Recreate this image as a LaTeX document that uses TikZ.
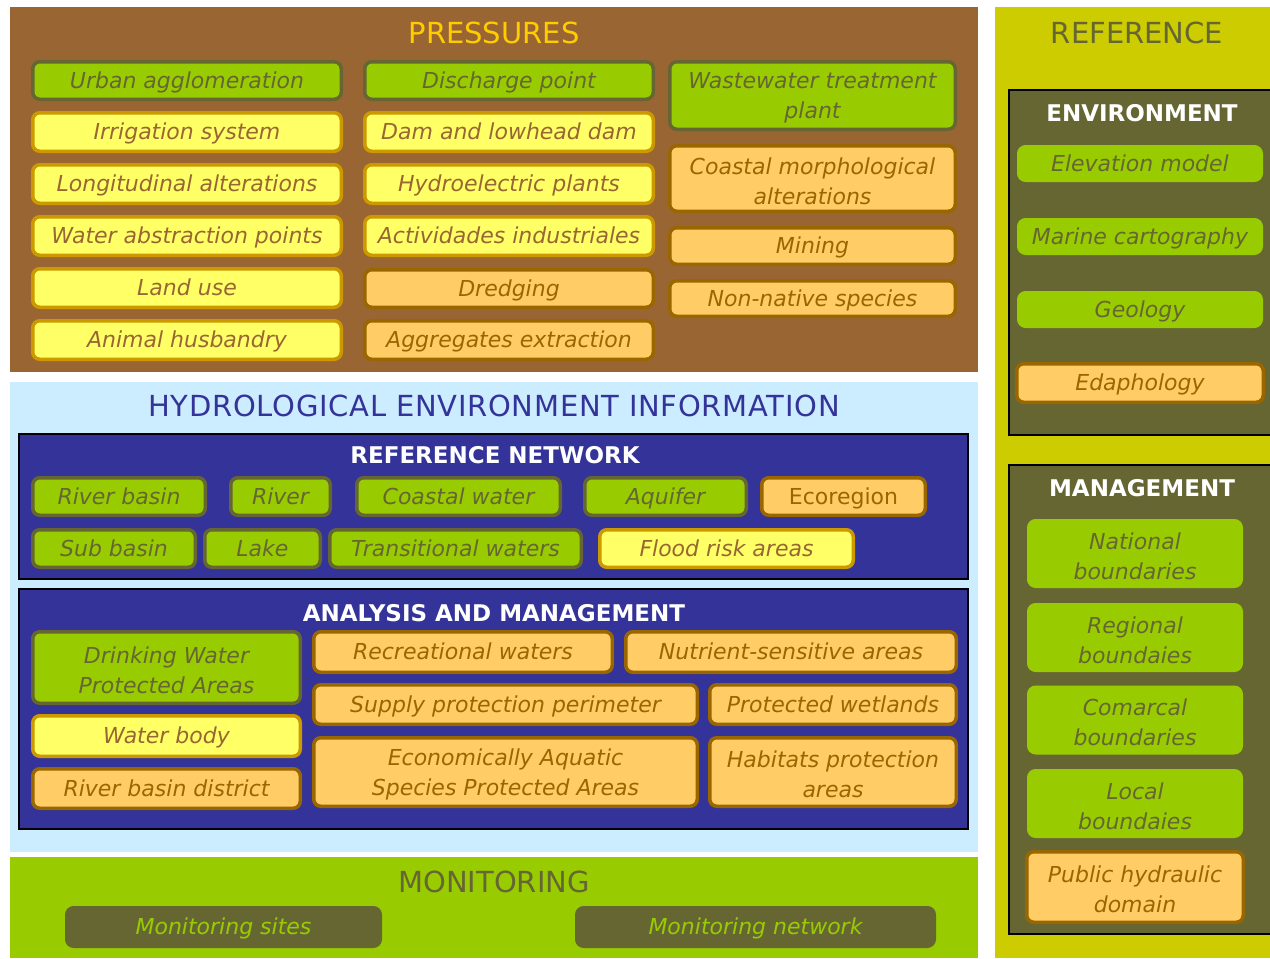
\documentclass[tikz,border=0pt]{standalone}
\usepackage{fontspec}
\setmainfont{DejaVu Sans}
\newfontfamily\widefont[LetterSpace=2.5]{DejaVu Sans}
\definecolor{brnpanel}{HTML}{996633}
\definecolor{ttlyel}{HTML}{FFCC00}
\definecolor{ltblue}{HTML}{CCECFF}
\definecolor{dkblue}{HTML}{333399}
\definecolor{grn}{HTML}{99CC00}
\definecolor{olv}{HTML}{666633}
\definecolor{strip}{HTML}{CCCC00}
\definecolor{yel}{HTML}{FFFF66}
\definecolor{yelb}{HTML}{CC9900}
\definecolor{org}{HTML}{FFCC66}
\definecolor{orgb}{HTML}{996600}
\definecolor{brn}{HTML}{996633}
\newcommand{\tl}{\rule{0pt}{21.5pt}}
\tikzset{
  bx/.style={rounded corners=7pt, line width=3.5pt, inner sep=0pt,
    font=\fontsize{22}{30}\selectfont\itshape, text height=16pt, text depth=1pt},
  sz/.style 2 args={minimum width=#1pt-3.5pt, minimum height=#2pt-3.5pt},
  gb/.style={bx, fill=grn, draw=olv, text=olv},
  yb/.style={bx, fill=yel, draw=yelb, text=brn},
  ob/.style={bx, fill=org, draw=orgb, text=orgb},
  eb/.style={bx, fill=grn, draw=grn, text=olv},
  mb/.style={bx, fill=olv, draw=olv, text=grn},
  two/.style={text height=, text depth=, align=center},
  ttl/.style={font=\fontsize{29}{34}\selectfont, anchor=base, inner sep=0pt},
  wt/.style={font=\fontsize{23}{28}\selectfont\bfseries, text=white, anchor=base, inner sep=0pt},
  frame/.style={draw=black, line width=2pt}
}
\begin{document}
\begin{tikzpicture}[x=1pt,y=-1pt]
\useasboundingbox[fill=white] (0,0) rectangle (1270,959);
% panels
\fill[brnpanel] (10,7) rectangle (978,372);
\fill[ltblue] (10,382) rectangle (978,852);
\fill[grn] (10,857) rectangle (978,958);
\fill[strip] (995,7) rectangle (1270,958);
\filldraw[fill=dkblue, frame] (19,434) rectangle (968,579);
\filldraw[fill=dkblue, frame] (19,589) rectangle (968,829);
\filldraw[fill=olv, frame] (1274,90) -- (1009,90) -- (1009,435) -- (1274,435);
\filldraw[fill=olv, frame] (1274,465) -- (1009,465) -- (1009,934) -- (1274,934);

% titles
\node[ttl, text=ttlyel] (tpress) at (494,43) {PRESSURES};
\node[ttl, text=dkblue, font=\fontsize{29}{34}\widefont] (thydro) at (494,416) {HYDROLOGICAL ENVIRONMENT INFORMATION};
\node[wt] (trefnet) at (495,463) {REFERENCE NETWORK};
\node[wt] (tanal) at (494,621) {ANALYSIS AND MANAGEMENT};
\node[ttl, text=olv] (tmon) at (494,892) {MONITORING};
\node[ttl, text=olv] (tref) at (1137,43) {REFERENCE};
\node[wt] (tenv) at (1142,121) {ENVIRONMENT};
\node[wt] (tman) at (1142,496) {MANAGEMENT};

% pressures column 1
\node[gb, sz={312}{41}] (urban) at (187,80.5) {Urban agglomeration};
\node[yb, sz={312}{42}] (irrig) at (187,132) {Irrigation system};
\node[yb, sz={312}{42}] (longit) at (187,184) {Longitudinal alterations};
\node[yb, sz={312}{42}] (wabs) at (187,236) {Water abstraction points};
\node[yb, sz={312}{42}] (land) at (187,288) {Land use};
\node[yb, sz={312}{42}] (animal) at (187,340) {Animal husbandry};
% pressures column 2
\node[gb, sz={292}{41}] (disch) at (509,80.5) {Discharge point};
\node[yb, sz={292}{42}] (dam) at (509,132) {Dam and lowhead dam};
\node[yb, sz={292}{42}] (hydro) at (509,184) {Hydroelectric plants};
\node[yb, sz={292}{42}] (activ) at (509,236) {Actividades industriales};
\node[ob, sz={292}{41}] (dredg) at (509,288.5) {Dredging};
\node[ob, sz={292}{42}] (aggr) at (509,340) {Aggregates extraction};
% pressures column 3
\node[gb, two, sz={289}{71}] (wwtp) at (812.5,95.5) {\tl Wastewater treatment\\plant};
\node[ob, two, sz={289}{69}] (coast) at (812.5,178.5) {\tl Coastal morphological\\alterations};
\node[ob, sz={289}{40}] (mining) at (812.5,246) {Mining};
\node[ob, sz={289}{39}] (nonnat) at (812.5,298.5) {Non-native species};

% reference network
\node[gb, sz={176}{41}] (rbasin) at (119,496.5) {River basin};
\node[gb, sz={103}{41}] (river) at (280.5,496.5) {River};
\node[gb, sz={207}{41}] (cwater) at (458.5,496.5) {Coastal water};
\node[gb, sz={165}{41}] (aquif) at (665.5,496.5) {Aquifer};
\node[ob, sz={167}{41}, font=\fontsize{22}{30}\selectfont] (ecoreg) at (843.5,496.5) {Ecoregion};
\node[gb, sz={166}{41}] (subb) at (114,548.5) {Sub basin};
\node[gb, sz={119}{41}] (lake) at (262.5,548.5) {Lake};
\node[gb, sz={255}{41}] (trans) at (455.5,548.5) {Transitional waters};
\node[yb, sz={257}{41}] (flood) at (726.5,548.5) {Flood risk areas};

% analysis and management
\node[gb, two, sz={271}{75}] (drink) at (166.5,667.5) {\tl Drinking Water\\Protected Areas};
\node[yb, sz={271}{44}] (wbody) at (166.5,736) {Water body};
\node[ob, sz={271}{43}] (rbd) at (166.5,788.5) {River basin district};
\node[ob, sz={302}{44}] (recr) at (463,652) {Recreational waters};
\node[ob, sz={334}{44}] (nutr) at (791,652) {Nutrient-sensitive areas};
\node[ob, sz={387}{43}] (supply) at (505.5,704.5) {Supply protection perimeter};
\node[ob, sz={250}{43}] (wetl) at (833,704.5) {Protected wetlands};
\node[ob, two, sz={387}{72}] (econ) at (505.5,772) {\tl Economically Aquatic\\Species Protected Areas};
\node[ob, two, sz={250}{72}] (habit) at (833,772) {\tl Habitats protection\\areas};

% monitoring
\node[mb, sz={317}{42}] (msites) at (223.5,927) {Monitoring sites};
\node[mb, sz={361}{42}] (mnet) at (755.5,927) {Monitoring network};

% environment
\node[eb, sz={246}{37}] (elev) at (1140,163.5) {Elevation model};
\node[eb, sz={246}{37}] (marine) at (1140,236.5) {Marine cartography};
\node[eb, sz={246}{37}] (geol) at (1140,309.5) {Geology};
\node[ob, sz={250}{42}] (edaph) at (1140,383) {Edaphology};

% management
\node[eb, two, sz={216}{69}] (natb) at (1135,553.5) {\tl National\\boundaries};
\node[eb, two, sz={216}{69}] (regb) at (1135,637.5) {\tl Regional\\boundaies};
\node[eb, two, sz={216}{69}] (comb) at (1135,720) {\tl Comarcal\\boundaries};
\node[eb, two, sz={216}{69}] (locb) at (1135,803.5) {\tl Local\\boundaies};
\node[ob, two, sz={220}{74}] (phd) at (1135,887) {\tl Public hydraulic\\domain};
\end{tikzpicture}
\end{document}
